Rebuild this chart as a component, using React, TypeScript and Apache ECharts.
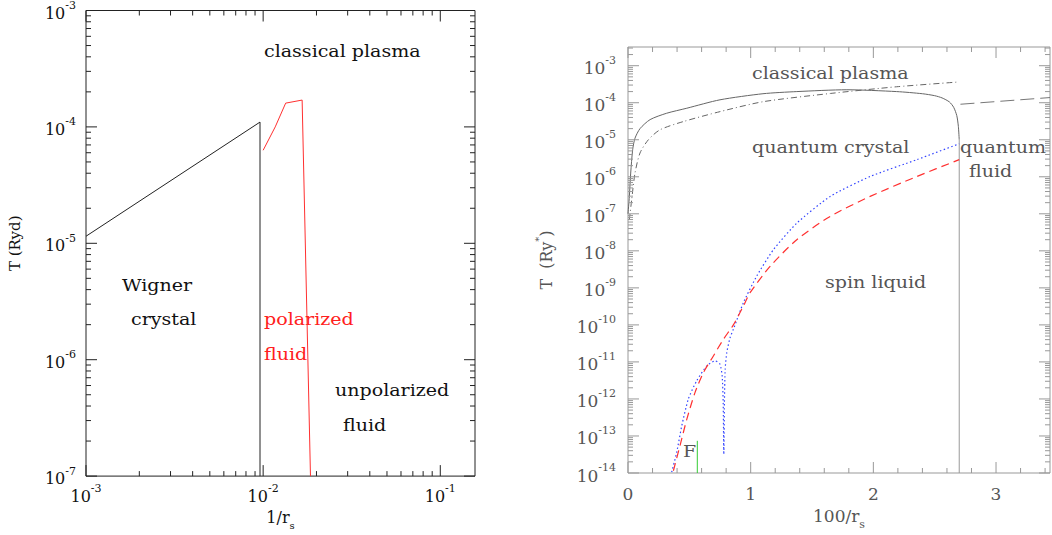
import React, { useEffect, useRef } from 'react';
import * as echarts from 'echarts';

const FONT = 'DejaVu Serif';

// ---------- Left panel data: (1/r_s, T [Ryd]) ----------
const wignerBoundary: number[][] = [
  [0.001, 1.15e-5],
  [0.0096, 1.1e-4],
  [0.0096, 1e-7],
];
const polarizedBoundary: number[][] = [
  [0.01, 6.3e-5],
  [0.0117, 1.0e-4],
  [0.0134, 1.6e-4],
  [0.0166, 1.7e-4],
  [0.0185, 1e-7],
];

// ---------- Right panel data: (100/r_s, T [Ry*]) ----------
const meltingCurve: number[][] = [
  [0.0, 1.0e-7], [0.011, 2.9e-7], [0.022, 1.26e-6], [0.038, 5.4e-6], [0.057, 1.1e-5],
  [0.098, 2.0e-5], [0.18, 3.5e-5], [0.315, 5.2e-5], [0.479, 7.1e-5], [0.75, 1.2e-4],
  [1.1, 1.75e-4], [1.376, 2.0e-4], [1.784, 2.24e-4], [2.19, 2.0e-4], [2.4, 1.75e-4],
  [2.5, 1.55e-4], [2.56, 1.35e-4], [2.62, 1.05e-4], [2.655, 7.5e-5], [2.68, 4.5e-5],
  [2.693, 2.3e-5], [2.7, 1.0e-5],
];
const meltingDrop: number[][] = [
  [2.7, 1.0e-5], [2.7, 1.0e-14],
];
const classicalCurve: number[][] = [
  [0.011, 6.9e-8], [0.03, 2.4e-7], [0.057, 1.26e-6], [0.098, 4.4e-6], [0.166, 1.0e-5],
  [0.261, 1.86e-5], [0.451, 3.1e-5], [0.75, 5.75e-5], [1.104, 1.07e-4], [1.65, 1.78e-4],
  [2.19, 2.7e-4], [2.68, 3.6e-4],
];
const fluidCurve: number[][] = [
  [2.71, 9.1e-5], [3.44, 1.38e-4],
];
const exchangeBlue: number[][] = [
  [0.356, 1.05e-14], [0.397, 3.6e-14], [0.438, 1.86e-13], [0.492, 1.0e-12], [0.56, 3.1e-12],
  [0.642, 7.8e-12], [0.71, 1.07e-11], [0.75, 8.7e-12], [0.768, 4.0e-12], [0.776, 7.9e-13],
  [0.781, 3.2e-14], [0.786, 7.9e-13], [0.792, 6.3e-12], [0.805, 1.78e-11], [0.832, 4.5e-11],
  [0.859, 7.6e-11], [0.941, 4.0e-10], [1.05, 2.1e-9], [1.185, 1.07e-8], [1.376, 5.6e-8],
  [1.648, 2.95e-7], [1.974, 1.02e-6], [2.355, 2.9e-6], [2.7, 7.8e-6],
];
const exchangeRed: number[][] = [
  [0.37, 1.15e-14], [0.424, 5.5e-14], [0.479, 2.8e-13], [0.546, 1.48e-12], [0.614, 5.1e-12],
  [0.696, 1.45e-11], [0.778, 4.1e-11], [0.859, 1.0e-10], [0.94, 3.2e-10], [0.995, 7.4e-10],
  [1.158, 3.8e-9], [1.376, 2.0e-8], [1.648, 8.5e-8], [1.974, 2.95e-7], [2.355, 1.02e-6],
  [2.7, 2.9e-6],
];
const ferroMarker: number[][] = [
  [0.565, 1e-14], [0.565, 7.4e-14],
];

// ---------- Axis ranges and tick values ----------
const leftX = { min: 1e-3, max: 0.157 };
const leftY = { min: 1e-7, max: 1e-3 };
const rightX = { min: 0, max: 3.44 };
const rightY = { min: 1e-14, max: 3.2e-3 };

const leftXMajor = [1e-3, 1e-2, 1e-1];
const leftYMajor = [1e-7, 1e-6, 1e-5, 1e-4, 1e-3];
const rightXMajor = [0, 1, 2, 3];
const rightYMajor = [1e-14, 1e-13, 1e-12, 1e-11, 1e-10, 1e-9, 1e-8, 1e-7, 1e-6, 1e-5, 1e-4, 1e-3];

function logMinors(decades: number[], max: number): number[] {
  const out: number[] = [];
  decades.forEach((d) => {
    for (let m = 2; m <= 9; m++) {
      const v = m * d;
      if (v < max) out.push(v);
    }
  });
  return out;
}
function linMinors(min: number, max: number, step: number): number[] {
  const out: number[] = [];
  for (let i = 1; min + i * step < max; i++) {
    const v = +(min + i * step).toFixed(6);
    if (Math.abs(v - Math.round(v)) > 1e-6) out.push(v);
  }
  return out;
}
const leftXMinor = logMinors(leftXMajor, leftX.max);
const leftYMinor = logMinors(leftYMajor, leftY.max);
const rightXMinor = linMinors(rightX.min, rightX.max, 0.2);
const rightYMinor = logMinors(rightYMajor, rightY.max);

// ---------- helpers ----------
function powLabel(v: number): string {
  const e = Math.log10(v);
  const r = Math.round(e);
  if (Math.abs(e - r) > 1e-6) return '';
  return `{b|10}{s|${r}}`;
}
function intLabel(v: number): string {
  return Math.abs(v - Math.round(v)) < 1e-6 ? String(Math.round(v)) : '';
}
function powRich(color: string, size: number, sup: number) {
  return {
    b: { fontFamily: FONT, fontSize: size, color, verticalAlign: 'bottom', padding: [5, 0, 0, 0] },
    s: { fontFamily: FONT, fontSize: sup, color, verticalAlign: 'top' },
  };
}

function lineSeries(data: any[], xi: number, yi: number, color: string, type: any, width = 1, smooth: any = false) {
  return {
    type: 'line', xAxisIndex: xi, yAxisIndex: yi, data, showSymbol: false, symbol: 'none',
    smooth, connectNulls: false, clip: false,
    lineStyle: { color, width, type }, z: 3, silent: true,
  };
}

function label(text: string, x: number, y: number, fill: string, size: number) {
  return {
    type: 'text', x, y, z: 10, silent: true, scaleX: 1.19,
    style: { text, fill, fontFamily: FONT, fontSize: size, verticalAlign: 'middle' },
  };
}

const L_AX = '#222';
const L_TX = '#111';
const R_AX = '#999';
const R_TX = '#555';

const textLabels = [
  label('classical plasma', 264, 52, L_TX, 16),
  label('Wigner', 122, 286, L_TX, 16),
  label('crystal', 131, 320, L_TX, 16),
  label('polarized', 264, 320, '#ff2020', 16),
  label('fluid', 264, 355, '#ff2020', 16),
  label('unpolarized', 335, 391, L_TX, 16),
  label('fluid', 343, 426, L_TX, 16),
  label('classical plasma', 752, 74, R_TX, 16),
  label('quantum crystal', 752, 148, R_TX, 16),
  label('quantum', 960, 148, R_TX, 16),
  label('fluid', 969, 172, R_TX, 16),
  label('spin liquid', 825, 283, R_TX, 16),
  label('F', 683, 452, R_TX, 16),
];

const BREAK = ['-', '-'];

export default function App() {
  const ref = useRef<HTMLDivElement>(null);
  useEffect(() => {
    if (!ref.current) return;
    const chart = echarts.init(ref.current, undefined, { renderer: 'svg' });

    const baseSeries: any[] = [
      lineSeries(wignerBoundary, 0, 0, '#222', 'solid'),
      lineSeries(polarizedBoundary, 0, 0, '#ff3030', 'solid'),
      lineSeries(meltingCurve, 1, 1, '#666', 'solid', 1, 0.25),
      lineSeries(meltingDrop, 1, 1, '#999', 'solid'),
      lineSeries(classicalCurve, 1, 1, '#666', [6, 3, 1, 3], 1, 0.25),
      lineSeries(fluidCurve, 1, 1, '#777', [14, 6]),
      lineSeries(exchangeBlue, 1, 1, '#3344ff', [1.5, 2.5], 1.2, 0.2),
      lineSeries(exchangeRed, 1, 1, '#ff3030', [8, 5], 1.2, 0.25),
      lineSeries(ferroMarker, 1, 1, '#33cc33', 'solid'),
    ];

    chart.setOption({
      animation: false,
      backgroundColor: '#fff',
      grid: [
        { left: 86, top: 10, width: 389, height: 467, show: true, borderColor: L_AX, borderWidth: 1 },
        { left: 628, top: 47, width: 422, height: 427, show: true, borderColor: R_AX, borderWidth: 1 },
      ],
      xAxis: [
        {
          gridIndex: 0, type: 'log', logBase: 10, min: leftX.min, max: leftX.max, interval: 1,
          axisLine: { show: false }, axisTick: { show: false }, splitLine: { show: false },
          axisLabel: {
            formatter: powLabel, rich: powRich(L_TX, 16, 11), fontFamily: FONT, fontSize: 16,
            color: L_TX, margin: 7, showMaxLabel: false,
          },
          name: '{a|1/r}{s|s}', nameLocation: 'middle', nameGap: 30,
          nameTextStyle: {
            fontFamily: FONT, fontSize: 16, color: L_TX,
            rich: {
              a: { fontFamily: FONT, fontSize: 16, color: L_TX, verticalAlign: 'top', padding: [0, 0, 5, 0] },
              s: { fontFamily: FONT, fontSize: 10, color: L_TX, verticalAlign: 'bottom' },
            },
          },
        },
        {
          gridIndex: 1, type: 'value', min: rightX.min, max: rightX.max, interval: 1,
          axisLine: { show: false }, axisTick: { show: false }, splitLine: { show: false },
          axisLabel: {
            formatter: intLabel, fontFamily: FONT, fontSize: 17, color: R_TX, margin: 12, showMaxLabel: false,
          },
          name: '{a|100/r}{s|s}', nameLocation: 'middle', nameGap: 34,
          nameTextStyle: {
            fontFamily: FONT, fontSize: 17, color: R_TX,
            rich: {
              a: { fontFamily: FONT, fontSize: 17, color: R_TX, verticalAlign: 'top', padding: [0, 0, 6, 0] },
              s: { fontFamily: FONT, fontSize: 11, color: R_TX, verticalAlign: 'bottom' },
            },
          },
        },
      ],
      yAxis: [
        {
          gridIndex: 0, type: 'log', logBase: 10, min: leftY.min, max: leftY.max, interval: 1,
          axisLine: { show: false }, axisTick: { show: false }, splitLine: { show: false },
          axisLabel: {
            formatter: powLabel, rich: powRich(L_TX, 16, 11), fontFamily: FONT, fontSize: 16,
            color: L_TX, margin: 10,
          },
          name: 'T (Ryd)', nameLocation: 'middle', nameGap: 64,
          nameTextStyle: { fontFamily: FONT, fontSize: 15, color: L_TX },
        },
        {
          gridIndex: 1, type: 'log', logBase: 10, min: rightY.min, max: rightY.max, interval: 1,
          axisLine: { show: false }, axisTick: { show: false }, splitLine: { show: false },
          axisLabel: {
            formatter: powLabel, rich: powRich(R_TX, 17, 11), fontFamily: FONT, fontSize: 17,
            color: R_TX, margin: 12, showMaxLabel: false,
          },
          name: '{a|T  (Ry}{s|*}{a|)}', nameLocation: 'middle', nameGap: 74,
          nameTextStyle: {
            fontFamily: FONT, fontSize: 16, color: R_TX,
            rich: {
              a: { fontFamily: FONT, fontSize: 16, color: R_TX, verticalAlign: 'bottom', padding: [5, 0, 0, 0] },
              s: { fontFamily: FONT, fontSize: 10, color: R_TX, verticalAlign: 'top' },
            },
          },
        },
      ],
      series: baseSeries,
      graphic: textLabels,
    });

    // Tick marks on all four sides, drawn as broken line series; the tick ends are
    // found through the axes' own scales (pixel length -> data value).
    const tickData = (gi: number, xr: any, yr: any, xMaj: number[], xMin: number[], yMaj: number[], yMin: number[]) => {
      const toPx = (v: number) => Number(chart.convertToPixel({ xAxisIndex: gi } as any, v));
      const toPy = (v: number) => Number(chart.convertToPixel({ yAxisIndex: gi } as any, v));
      const fromPx = (p: number) => Number(chart.convertFromPixel({ xAxisIndex: gi } as any, p));
      const fromPy = (p: number) => Number(chart.convertFromPixel({ yAxisIndex: gi } as any, p));
      const L = toPx(xr.min), R = toPx(xr.max), B = toPy(yr.min), T = toPy(yr.max);
      const data: any[] = [];
      const xs = (vals: number[], len: number) => {
        const up = fromPy(B - len), down = fromPy(T + len);
        vals.forEach((v) => {
          data.push([v, yr.min], [v, up], BREAK, [v, yr.max], [v, down], BREAK);
        });
      };
      const ys = (vals: number[], len: number) => {
        const inL = fromPx(L + len), inR = fromPx(R - len);
        vals.forEach((v) => {
          data.push([xr.min, v], [inL, v], BREAK, [xr.max, v], [inR, v], BREAK);
        });
      };
      xs(xMaj, 11); xs(xMin, 5); ys(yMaj, 11); ys(yMin, 5);
      return data.filter((d) => d === BREAK || (isFinite(d[0]) && isFinite(d[1])));
    };

    const leftTicks = tickData(0, leftX, leftY, leftXMajor, leftXMinor, leftYMajor, leftYMinor);
    const rightTicks = tickData(1, rightX, rightY, rightXMajor, rightXMinor, rightYMajor, rightYMinor);

    chart.setOption({
      series: [
        ...baseSeries,
        lineSeries(leftTicks, 0, 0, L_AX, 'solid'),
        lineSeries(rightTicks, 1, 1, R_AX, 'solid'),
      ],
    });
    return () => chart.dispose();
  }, []);
  return <div ref={ref} style={{ position: 'absolute', left: 0, top: 0, width: 1052, height: 535 }} />;
}
